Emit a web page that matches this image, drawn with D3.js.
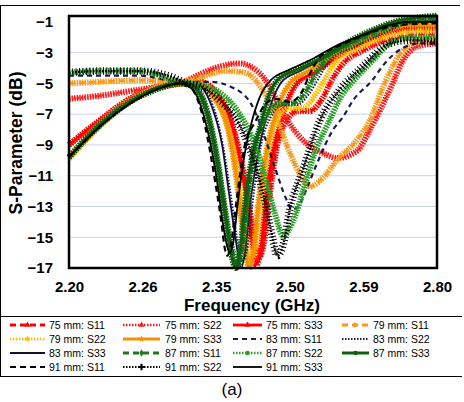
<!DOCTYPE html>
<html>
<head>
<meta charset="utf-8">
<script src="https://cdn.jsdelivr.net/npm/d3@7"></script>
<style>
  body { margin: 0; background: #fff; }
  text { font-family: "Liberation Sans", Arial, sans-serif; }
  .tick text { font-family: "Liberation Sans", Arial, sans-serif; font-weight: bold; font-size: 15px; fill: #000; }
</style>
</head>
<body>
<svg id="chart" width="464" height="402"></svg>
<script>
// x is the position along the category axis (0 = 2.20 ... 5 = 2.80), y is dB
const xLabels = ['2.20', '2.26', '2.35', '2.50', '2.59', '2.80'];
const yTicks = [-17, -15, -13, -11, -9, -7, -5, -3, -1];

const s75_11 = [[0,-9.0],[0.42,-7.4],[0.83,-6.0],[1.24,-5.2],[1.51,-5.0],[1.78,-4.9],[2.00,-5.6],[2.20,-7.4],[2.34,-10.0],[2.45,-13.0],[2.53,-15.6],[2.58,-16.3],[2.64,-15.6],[2.72,-12.5],[2.83,-9.0],[2.96,-7.4],[3.11,-6.8],[3.27,-6.8],[3.44,-6.0],[3.57,-4.8],[3.71,-3.8],[4.02,-2.8],[4.43,-2.0],[4.77,-1.8],[5,-1.8]];
const s75_22 = [[0,-6.0],[0.42,-5.8],[0.83,-5.5],[1.24,-5.2],[1.51,-5.0],[1.78,-4.4],[2.05,-3.9],[2.32,-3.7],[2.50,-4.0],[2.64,-4.6],[2.77,-5.6],[2.87,-6.6],[3.14,-8.5],[3.48,-9.6],[3.64,-9.85],[3.91,-9.4],[4.09,-8.0],[4.36,-5.4],[4.54,-3.5],[4.73,-2.6],[5,-2.4]];
const s75_33 = [[0,-9.0],[0.42,-7.4],[0.83,-6.0],[1.24,-5.2],[1.51,-5.0],[1.78,-4.9],[1.98,-5.6],[2.19,-7.4],[2.32,-10.0],[2.43,-13.0],[2.50,-15.8],[2.54,-16.8],[2.60,-16.0],[2.68,-12.5],[2.77,-9.5],[2.87,-7.6],[2.98,-6.0],[3.10,-5.0],[3.34,-4.3],[3.61,-3.4],[3.95,-2.5],[4.29,-1.8],[4.63,-1.4],[5,-1.4]];

const s79_11 = [[0,-5.0],[0.42,-4.9],[0.96,-4.8],[1.51,-4.9],[1.78,-4.6],[2.12,-4.2],[2.39,-4.3],[2.60,-5.2],[2.80,-7.0],[3.00,-9.5],[3.14,-10.9],[3.27,-11.7],[3.44,-11.2],[3.64,-10.0],[3.91,-8.7],[4.09,-7.4],[4.27,-5.2],[4.50,-3.1],[4.67,-2.4],[5,-2.1]];
const s79_22 = [[0,-9.9],[0.42,-7.8],[0.83,-6.2],[1.24,-5.2],[1.51,-5.0],[1.78,-5.0],[2.00,-6.0],[2.17,-8.0],[2.30,-11.0],[2.39,-14.5],[2.47,-16.5],[2.53,-15.8],[2.61,-12.5],[2.72,-9.0],[2.85,-7.2],[3.00,-6.6],[3.18,-6.6],[3.34,-5.8],[3.48,-4.7],[3.61,-3.7],[3.95,-2.7],[4.36,-1.9],[4.70,-1.6],[5,-1.6]];
const s79_33 = [[0,-9.8],[0.42,-7.6],[0.83,-6.1],[1.24,-5.2],[1.51,-5.0],[1.78,-5.0],[1.98,-6.0],[2.16,-8.0],[2.27,-11.0],[2.36,-14.5],[2.45,-17.0],[2.50,-16.0],[2.58,-12.5],[2.68,-9.5],[2.77,-7.6],[2.88,-6.0],[3.00,-5.0],[3.25,-4.2],[3.52,-3.4],[3.85,-2.5],[4.23,-1.7],[4.63,-1.2],[5,-1.2]];

const s83_11 = [[0,-4.5],[0.42,-4.5],[0.96,-4.5],[1.51,-4.9],[1.92,-4.9],[2.19,-5.2],[2.47,-6.3],[2.66,-8.5],[2.80,-10.5],[2.95,-12.5],[3.03,-13.2],[3.14,-12.8],[3.25,-11.6],[3.37,-10.2],[3.59,-8.0],[3.72,-7.2],[3.86,-6.1],[4.12,-4.8],[4.29,-3.7],[4.50,-2.8],[4.77,-2.4],[5,-2.4]];
const s83_22 = [[0,-9.8],[0.42,-7.7],[0.83,-6.2],[1.24,-5.2],[1.51,-5.0],[1.73,-5.0],[1.96,-6.5],[2.09,-9.0],[2.19,-12.0],[2.28,-15.0],[2.36,-16.5],[2.42,-15.8],[2.50,-12.5],[2.61,-9.0],[2.74,-7.2],[2.91,-6.4],[3.10,-6.4],[3.26,-5.7],[3.40,-4.6],[3.53,-3.6],[3.89,-2.6],[4.29,-1.7],[4.63,-1.1],[5,-1.0]];
const s83_33 = [[0,-9.8],[0.42,-7.7],[0.83,-6.2],[1.24,-5.2],[1.51,-5.0],[1.71,-5.0],[1.94,-6.5],[2.08,-9.0],[2.17,-12.0],[2.26,-15.0],[2.34,-17.0],[2.39,-16.0],[2.47,-12.5],[2.57,-9.5],[2.66,-7.6],[2.77,-6.0],[2.89,-4.9],[3.14,-4.2],[3.41,-3.5],[3.75,-2.6],[4.16,-1.6],[4.57,-1.0],[5,-0.9]];

const s87_11 = [[0,-9.8],[0.42,-7.7],[0.83,-6.2],[1.24,-5.3],[1.51,-5.0],[1.70,-5.2],[1.89,-7.0],[2.02,-10.0],[2.13,-13.5],[2.23,-16.0],[2.30,-16.8],[2.35,-16.0],[2.43,-12.5],[2.54,-9.0],[2.68,-7.2],[2.84,-6.3],[3.04,-6.3],[3.21,-5.6],[3.34,-4.5],[3.48,-3.5],[3.82,-2.5],[4.23,-1.6],[4.57,-1.0],[5,-0.8]];
const s87_22 = [[0,-4.3],[0.42,-4.2],[0.96,-4.2],[1.51,-4.9],[1.78,-5.1],[2.05,-5.6],[2.32,-7.0],[2.53,-9.0],[2.66,-11.0],[2.80,-13.5],[2.91,-14.9],[3.04,-14.0],[3.21,-11.5],[3.34,-9.5],[3.52,-7.6],[3.68,-6.0],[3.89,-4.7],[4.09,-3.7],[4.40,-2.3],[4.70,-2.0],[5,-2.0]];
const s87_33 = [[0,-9.8],[0.42,-7.7],[0.83,-6.2],[1.24,-5.3],[1.51,-5.0],[1.68,-5.2],[1.88,-7.0],[2.01,-10.0],[2.12,-13.5],[2.20,-16.0],[2.27,-17.0],[2.32,-16.0],[2.40,-12.5],[2.50,-9.5],[2.60,-7.8],[2.70,-6.0],[2.83,-4.8],[3.10,-4.1],[3.37,-3.5],[3.68,-2.6],[4.09,-1.6],[4.50,-0.9],[4.77,-0.7],[5,-0.6]];

const s91_11 = [[0,-9.8],[0.42,-7.8],[0.83,-6.3],[1.24,-5.3],[1.51,-5.0],[1.66,-5.3],[1.85,-7.8],[1.98,-11.2],[2.07,-14.0],[2.12,-15.8],[2.15,-16.2],[2.20,-15.5],[2.28,-12.5],[2.39,-9.0],[2.53,-7.5],[2.66,-6.4],[2.80,-6.0],[3.00,-6.2],[3.17,-5.5],[3.27,-4.4],[3.41,-3.3],[3.75,-2.4],[4.16,-1.6],[4.50,-1.2],[5,-1.1]];
const s91_22 = [[0,-4.3],[0.42,-4.2],[0.96,-4.2],[1.41,-4.6],[1.60,-5.0],[1.78,-5.2],[2.05,-6.1],[2.32,-7.7],[2.53,-10.3],[2.66,-12.6],[2.76,-14.9],[2.83,-16.2],[2.91,-15.5],[3.00,-13.2],[3.18,-10.6],[3.41,-7.4],[3.68,-5.4],[3.99,-3.9],[4.36,-2.4],[4.63,-2.2],[5,-2.3]];
const s91_33 = [[0,-9.8],[0.42,-7.8],[0.83,-6.3],[1.24,-5.3],[1.51,-5.0],[1.68,-5.4],[1.88,-8.0],[2.01,-11.3],[2.09,-14.1],[2.15,-15.6],[2.19,-16.0],[2.23,-15.4],[2.30,-12.5],[2.39,-9.5],[2.50,-7.2],[2.62,-5.6],[2.74,-4.8],[3.00,-4.1],[3.27,-3.5],[3.61,-2.6],[4.02,-1.8],[4.36,-1.2],[4.63,-1.0],[5,-1.0]];

// drawing style per series, in legend order
const series = [
  { name: '75 mm: S11', data: s75_11, color: '#ff0000', dash: '6 4', w: 2.8, mark: 'tri' },
  { name: '75 mm: S22', data: s75_22, color: '#ff1a1a', dash: '1.5 1.5', w: 2.6, mark: 'tri' },
  { name: '75 mm: S33', data: s75_33, color: '#ff0000', dash: null, w: 2.8, mark: 'tri' },
  { name: '79 mm: S11', data: s79_11, color: '#f79a1e', dash: '6 4', w: 2.8, mark: 'arrow' },
  { name: '79 mm: S22', data: s79_22, color: '#ffc000', dash: '1.5 1.5', w: 2.6, mark: 'star' },
  { name: '79 mm: S33', data: s79_33, color: '#f39200', dash: null, w: 3.2, mark: 'star' },
  { name: '83 mm: S11', data: s83_11, color: '#1c1c50', dash: '5 4', w: 2.2, mark: null },
  { name: '83 mm: S22', data: s83_22, color: '#1c1c50', dash: '1.5 1.5', w: 2, mark: null },
  { name: '83 mm: S33', data: s83_33, color: '#101038', dash: null, w: 1.8, mark: null },
  { name: '87 mm: S11', data: s87_11, color: '#1d7a1d', dash: '6 4', w: 2.8, mark: 'diamond' },
  { name: '87 mm: S22', data: s87_22, color: '#2aa02a', dash: '1.5 1.5', w: 2.6, mark: 'circle' },
  { name: '87 mm: S33', data: s87_33, color: '#115e11', dash: null, w: 3, mark: 'circle' },
  { name: '91 mm: S11', data: s91_11, color: '#000000', dash: '6 4', w: 2.2, mark: null },
  { name: '91 mm: S22', data: s91_22, color: '#000000', dash: '1.5 1.5', w: 2.2, mark: 'plus' },
  { name: '91 mm: S33', data: s91_33, color: '#000000', dash: null, w: 1.8, mark: null }
];

const svg = d3.select('#chart');
const x = d3.scaleLinear().domain([0, 5]).range([69, 437]);
const y = d3.scaleLinear().domain([-17, -0.62]).range([268, 16]);

// outer frame
svg.append('line').attr('x1', 0).attr('x2', 460).attr('y1', 5.5).attr('y2', 5.5)
  .attr('stroke', '#000').attr('stroke-width', 1);
svg.append('line').attr('x1', 0.5).attr('x2', 0.5).attr('y1', 5).attr('y2', 376)
  .attr('stroke', '#000').attr('stroke-width', 1);

// gridlines
svg.append('g').selectAll('line')
  .data(yTicks.filter(d => d > -17 && d < -1))
  .join('line')
    .attr('x1', x(0)).attr('x2', x(5))
    .attr('y1', d => y(d)).attr('y2', d => y(d))
    .attr('stroke', '#c9d3e6').attr('stroke-width', 1);

// axes
const yAxis = svg.append('g').attr('transform', `translate(${x(0)},0)`)
  .call(d3.axisLeft(y).tickValues(yTicks).tickSize(0).tickPadding(16));
const xAxis = svg.append('g').attr('transform', `translate(0,${y(-17)})`)
  .call(d3.axisBottom(x).tickValues(d3.range(6)).tickFormat(i => xLabels[i]).tickSize(0).tickPadding(13));
yAxis.select('.domain').remove();
xAxis.select('.domain').remove();

// curves
const line = d3.line().x(d => x(d[0])).y(d => y(d[1])).curve(d3.curveMonotoneX);
const curves = svg.append('g');
series.forEach(s => {
  curves.append('path')
    .attr('d', line(s.data))
    .attr('fill', 'none')
    .attr('stroke', s.color)
    .attr('stroke-width', s.w)
    .attr('stroke-dasharray', s.dash);
  if (s.mark) {
    // markers sit on every sample, so they show as a fuzzy band
    curves.append('path')
      .attr('d', line(s.data))
      .attr('fill', 'none')
      .attr('stroke', s.color)
      .attr('stroke-width', s.mark === 'plus' ? 7.5 : 6)
      .attr('stroke-dasharray', s.mark === 'plus' ? '1 2.4' : '1.5 1.1');
  }
});

// plot border
svg.append('rect')
  .attr('x', x(0)).attr('y', y(-0.62))
  .attr('width', x(5) - x(0)).attr('height', y(-17) - y(-0.62))
  .attr('fill', 'none').attr('stroke', '#000').attr('stroke-width', 2.5);

// axis titles
svg.append('text')
  .attr('transform', 'translate(16,143) rotate(-90)')
  .attr('dy', '0.35em')
  .attr('text-anchor', 'middle')
  .attr('font-size', 17.5).attr('font-weight', 'bold')
  .text('S-Parameter (dB)');
svg.append('text')
  .attr('x', 252).attr('y', 311)
  .attr('text-anchor', 'middle')
  .attr('font-size', 17).attr('font-weight', 'bold')
  .text('Frequency (GHz)');

// legend
const legend = svg.append('g');
legend.append('line').attr('x1', 0).attr('x2', 462).attr('y1', 316.5).attr('y2', 316.5).attr('stroke', '#000');
legend.append('line').attr('x1', 0).attr('x2', 462).attr('y1', 376.5).attr('y2', 376.5).attr('stroke', '#000');
const colLine = [[10, 45], [123, 160], [233, 262], [342, 369]];
const colText = [49, 165, 266, 373];
const rowY = [325, 339, 353, 367];
const symbols = {
  tri: d3.symbolTriangle, arrow: d3.symbolTriangle, star: d3.symbolStar,
  diamond: d3.symbolDiamond, circle: d3.symbolCircle, plus: d3.symbolCross
};
series.forEach((s, i) => {
  const c = i % 4, r = Math.floor(i / 4);
  const g = legend.append('g').attr('transform', `translate(0,${rowY[r]})`);
  g.append('line')
    .attr('x1', colLine[c][0]).attr('x2', colLine[c][1])
    .attr('stroke', s.color).attr('stroke-width', s.w)
    .attr('stroke-dasharray', s.dash);
  if (s.mark) {
    const mid = (colLine[c][0] + colLine[c][1]) / 2;
    g.append('path')
      .attr('transform', `translate(${mid},0)` + (s.mark === 'arrow' ? ' rotate(90)' : ''))
      .attr('d', d3.symbol(symbols[s.mark], s.mark === 'plus' ? 22 : 16)())
      .attr('fill', s.color);
  }
  g.append('text')
    .attr('x', colText[c]).attr('dy', '0.35em')
    .attr('font-size', 10.5)
    .text(s.name);
});

svg.append('text')
  .attr('x', 232).attr('y', 395)
  .attr('text-anchor', 'middle')
  .attr('font-family', '"Liberation Serif", "Times New Roman", serif')
  .attr('font-size', 17)
  .text('(a)');
</script>
</body>
</html>
